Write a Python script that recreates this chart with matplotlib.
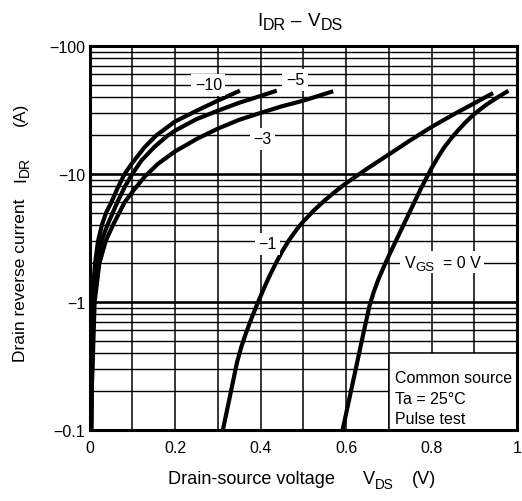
import numpy as np
import matplotlib
matplotlib.use('Agg')
import matplotlib.pyplot as plt
from matplotlib.patches import Rectangle
from matplotlib.transforms import IdentityTransform
from matplotlib.ticker import FixedLocator, FixedFormatter, LogLocator, NullFormatter

plt.rcParams['font.family'] = ['Liberation Sans', 'DejaVu Sans']

# ---- data: VDS (V) and IDR (A, negative) per VGS ----
vds_m10 = [0.004, 0.005, 0.006, 0.008, 0.010, 0.013, 0.020, 0.029, 0.039, 0.050, 0.066,
           0.082, 0.100, 0.129, 0.156, 0.200, 0.254, 0.300, 0.352]
idr_m10 = [-0.1, -0.2, -0.5, -1, -1.5, -2, -3, -4, -5, -5.9, -7.8,
           -10, -12.2, -16.2, -20, -25.7, -31.6, -37.4, -44.8]

vds_m5 = [0.004, 0.005, 0.006, 0.010, 0.017, 0.028, 0.042, 0.065, 0.083, 0.100, 0.122,
          0.152, 0.180, 0.200, 0.250, 0.300, 0.350, 0.400, 0.438]
idr_m5 = [-0.1, -0.2, -0.3, -1, -2, -3, -4, -6, -8, -10, -12.8,
          -16.3, -19.6, -21.8, -26.8, -31.2, -36, -40.7, -44.8]

vds_m3 = [0.004, 0.005, 0.007, 0.012, 0.023, 0.038, 0.055, 0.082, 0.105, 0.130, 0.160,
          0.200, 0.251, 0.300, 0.350, 0.400, 0.450, 0.500, 0.570]
idr_m3 = [-0.1, -0.2, -0.3, -1, -2, -3, -4, -6, -7.6, -9.6, -12.0,
          -15.0, -18.8, -22.6, -26.5, -30, -33.8, -37.4, -44.3]

vds_m1 = [0.312, 0.325, 0.335, 0.345, 0.355, 0.365, 0.375, 0.385, 0.395, 0.405, 0.420,
          0.436, 0.450, 0.467, 0.485, 0.500, 0.525, 0.550, 0.575, 0.600, 0.650,
          0.700, 0.750, 0.800, 0.850, 0.900, 0.944]
idr_m1 = [-0.1, -0.161, -0.233, -0.337, -0.445, -0.56, -0.689, -0.838, -1.01, -1.21, -1.57,
          -2.01, -2.46, -3.05, -3.70, -4.25, -5.20, -6.21, -7.29, -8.47, -11.04,
          -14.2, -18.3, -23.3, -29.0, -35.7, -42.9]

vds_0 = [0.592, 0.610, 0.625, 0.640, 0.655, 0.665, 0.675, 0.687, 0.700, 0.725, 0.750,
         0.775, 0.800, 0.815, 0.830, 0.845, 0.863, 0.880, 0.898, 0.915, 0.930, 0.955, 0.980]
idr_0 = [-0.1, -0.19, -0.324, -0.555, -0.933, -1.20, -1.48, -1.84, -2.29, -3.43, -5.13,
         -7.67, -11.1, -13.5, -16.2, -18.8, -22.1, -25.4, -29.0, -32.2, -35.1, -39.8, -44.7]

curve_labels = ['\u221210', '\u22125', '\u22123', '\u22121']
label_x = [0.278, 0.481, 0.405, 0.416]
label_y = [-49.7, -54.5, -18.8, -2.84]
vgs0_label_x, vgs0_label_y = 0.824, -2.07

x_ticks = [0, 0.2, 0.4, 0.6, 0.8, 1.0]
x_ticklabels = ['0', '0.2', '0.4', '0.6', '0.8', '1']
y_ticks = [-0.1, -1, -10, -100]
y_ticklabels = ['\u22120.1', '\u22121', '\u221210', '\u2212100']

note_lines = ['Common source', 'Ta = 25\u00b0C', 'Pulse test']
note_y = [-0.258, -0.177, -0.122]

W, H = 522, 502

# ---- figure ----
fig = plt.figure(figsize=(W / 100, H / 100), dpi=100)
ax = fig.add_axes([89.5 / W, 1 - 431 / H, 427.5 / W, 384 / H])
ax.set_yscale('log')
ax.set_xlim(0, 1.0)
ax.set_ylim(0.1, 100)

series = [(vds_m10, idr_m10), (vds_m5, idr_m5), (vds_m3, idr_m3), (vds_m1, idr_m1), (vds_0, idr_0)]
for v, i in series:
    ax.plot(v, -np.asarray(i), color='black', lw=3.0, solid_capstyle='butt',
            solid_joinstyle='round', zorder=4)

# grid
ax.xaxis.set_major_locator(FixedLocator(x_ticks))
ax.xaxis.set_major_formatter(FixedFormatter(x_ticklabels))
ax.xaxis.set_minor_locator(FixedLocator(np.arange(0.1, 1.0, 0.2)))
ax.yaxis.set_major_locator(FixedLocator([-t for t in y_ticks]))
ax.yaxis.set_major_formatter(FixedFormatter(y_ticklabels))
ax.yaxis.set_minor_locator(LogLocator(base=10, subs=np.arange(2, 10)))
ax.yaxis.set_minor_formatter(NullFormatter())
ax.set_axisbelow(True)
ax.grid(True, axis='x', which='both', color='black', lw=1.1)
ax.grid(True, axis='y', which='major', color='black', lw=1.9)
ax.grid(True, axis='y', which='minor', color='black', lw=1.0)
ax.tick_params(which='both', length=0)
ax.tick_params(axis='x', pad=7, labelsize=11.5)
ax.tick_params(axis='y', pad=3, labelsize=11.5)
for s in ax.spines.values():
    s.set_linewidth(2.2)
    s.set_zorder(6)

# note box
ax.add_patch(Rectangle((0.70, 0.1), 0.30, 0.3, facecolor='white', edgecolor='black',
                       lw=1.1, zorder=2))
for t, y in zip(note_lines, note_y):
    ax.text(0.715, -y, t, fontsize=11.5, ha='left', va='center', zorder=5)

# curve labels
for t, x, y in zip(curve_labels, label_x, label_y):
    ax.text(x, -y, t, fontsize=11.5, ha='center', va='center', zorder=5,
            bbox=dict(facecolor='white', edgecolor='none', pad=2.5))

renderer = fig.canvas.get_renderer()


def rich(pieces, base, rot=0):
    """pieces: (text, size, drop_px, start_px or None); positions in px from top/left."""
    pos = None
    for text, size, drop, start in pieces:
        if start is not None:
            pos = start
        if rot == 0:
            t = fig.text(pos, H - base - drop, text, fontsize=size, ha='left', va='baseline',
                         transform=IdentityTransform(), zorder=5)
            pos += t.get_window_extent(renderer).width
        else:
            t = fig.text(base + drop, H - pos, text, fontsize=size, ha='left', va='baseline',
                         rotation=90, rotation_mode='anchor', transform=IdentityTransform(),
                         zorder=5)
            pos -= t.get_window_extent(renderer).height


# VGS = 0 V label with white background
px = ax.transData.transform((vgs0_label_x, -vgs0_label_y))
cx, cy = px[0], H - px[1]
fig.add_artist(Rectangle((cx - 42, H - (cy + 11)), 84, 22, facecolor='white',
                         edgecolor='none', transform=IdentityTransform(), zorder=1))
rich([('V', 11.5, 0, cx - 37), ('GS', 9.5, 3, None), ('= 0 V', 11.5, 0, cx + 1)], cy + 5.5)

# titles
rich([('I', 13.5, 0, 257), ('DR', 11.5, 4, None), ('\u2013', 13.5, 0, 291),
      ('V', 13.5, 0, 308), ('DS', 11.5, 4, None)], 25.7)
rich([('Drain-source voltage', 13.1, 0, 168), ('V', 13.1, 0, 363), ('DS', 9.8, 5, None),
      ('(V)', 13.1, 0, 412)], 484)
rich([('Drain reverse current', 12.5, 0, 362), ('I', 12.5, 0, 182), ('DR', 10.0, 4, None),
      ('(A)', 12.5, 0, 126)], 25, rot=90)

fig.savefig('out.png', dpi=100)
